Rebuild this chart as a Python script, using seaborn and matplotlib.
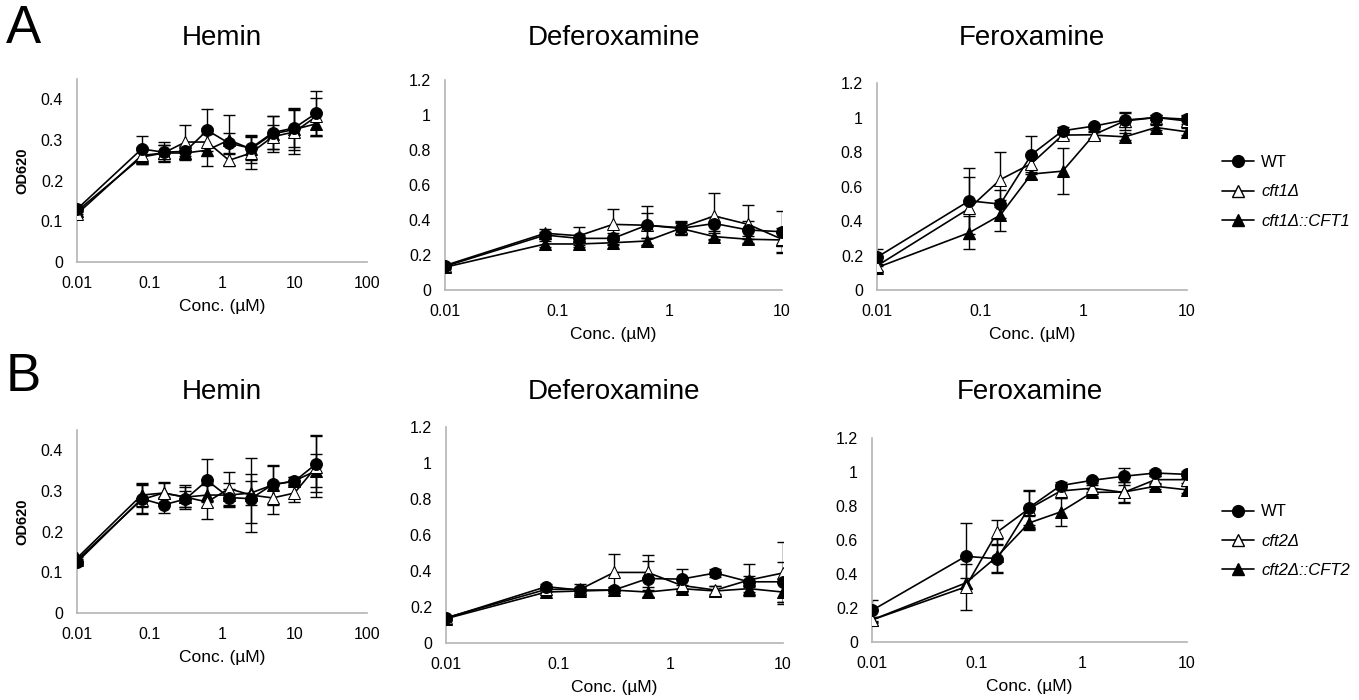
import matplotlib
matplotlib.use("Agg")
import matplotlib.pyplot as plt
import seaborn as sns
import pandas as pd
import numpy as np
from matplotlib.lines import Line2D
from matplotlib.ticker import FixedLocator, NullLocator

# ---------------- data ----------------
conc_hemin = [0.01, 0.078, 0.156, 0.3125, 0.625, 1.25, 2.5, 5, 10, 20]
conc_sid = [0.01, 0.078, 0.156, 0.3125, 0.625, 1.25, 2.5, 5, 10]

# Panel A
hemA_wt = [0.130, 0.278, 0.270, 0.272, 0.324, 0.292, 0.280, 0.318, 0.330, 0.366]
hemA_wt_err = [0.008, 0.033, 0.025, 0.012, 0.052, 0.025, 0.030, 0.040, 0.048, 0.055]
hemA_del = [0.118, 0.262, 0.268, 0.295, 0.295, 0.250, 0.268, 0.308, 0.320, 0.358]
hemA_del_err = [0.008, 0.022, 0.020, 0.042, 0.035, 0.015, 0.040, 0.030, 0.055, 0.045]
hemA_comp = [0.125, 0.258, 0.268, 0.268, 0.275, 0.300, 0.278, 0.315, 0.326, 0.340]
hemA_comp_err = [0.008, 0.018, 0.020, 0.018, 0.040, 0.062, 0.035, 0.045, 0.050, 0.030]

defA_wt = [0.135, 0.314, 0.295, 0.295, 0.370, 0.352, 0.380, 0.343, 0.333]
defA_wt_err = [0.010, 0.020, 0.020, 0.030, 0.070, 0.030, 0.040, 0.050, 0.120]
defA_del = [0.140, 0.324, 0.310, 0.375, 0.370, 0.356, 0.423, 0.375, 0.290]
defA_del_err = [0.010, 0.025, 0.050, 0.090, 0.110, 0.030, 0.130, 0.110, 0.040]
defA_comp = [0.130, 0.263, 0.263, 0.270, 0.280, 0.352, 0.305, 0.290, 0.286]
defA_comp_err = [0.010, 0.015, 0.015, 0.015, 0.020, 0.040, 0.020, 0.020, 0.067]

ferA_wt = [0.190, 0.517, 0.498, 0.785, 0.923, 0.950, 0.985, 1.000, 0.990]
ferA_wt_err = [0.050, 0.190, 0.080, 0.110, 0.020, 0.015, 0.040, 0.015, 0.025]
ferA_del = [0.140, 0.473, 0.640, 0.733, 0.898, 0.900, 0.980, 1.000, 0.980]
ferA_del_err = [0.030, 0.180, 0.160, 0.050, 0.020, 0.020, 0.050, 0.015, 0.030]
ferA_comp = [0.130, 0.332, 0.434, 0.672, 0.689, 0.898, 0.888, 0.942, 0.917]
ferA_comp_err = [0.020, 0.095, 0.090, 0.030, 0.134, 0.020, 0.020, 0.015, 0.020]

# Panel B
hemB_wt = [0.125, 0.281, 0.266, 0.280, 0.326, 0.284, 0.281, 0.316, 0.324, 0.367]
hemB_wt_err = [0.008, 0.035, 0.020, 0.020, 0.052, 0.020, 0.060, 0.045, 0.010, 0.070]
hemB_del = [0.130, 0.279, 0.295, 0.285, 0.273, 0.306, 0.290, 0.283, 0.295, 0.360]
hemB_del_err = [0.008, 0.035, 0.025, 0.030, 0.042, 0.040, 0.090, 0.040, 0.022, 0.075]
hemB_comp = [0.135, 0.290, 0.295, 0.285, 0.290, 0.290, 0.295, 0.315, 0.325, 0.350]
hemB_comp_err = [0.008, 0.030, 0.028, 0.025, 0.030, 0.030, 0.030, 0.050, 0.010, 0.040]

defB_wt = [0.138, 0.313, 0.294, 0.294, 0.358, 0.355, 0.389, 0.340, 0.340]
defB_wt_err = [0.010, 0.015, 0.015, 0.015, 0.100, 0.055, 0.020, 0.030, 0.110]
defB_del = [0.140, 0.298, 0.298, 0.392, 0.392, 0.320, 0.294, 0.350, 0.389]
defB_del_err = [0.010, 0.015, 0.030, 0.100, 0.095, 0.030, 0.020, 0.090, 0.170]
defB_comp = [0.135, 0.283, 0.289, 0.294, 0.283, 0.302, 0.289, 0.302, 0.283]
defB_comp_err = [0.010, 0.015, 0.015, 0.015, 0.030, 0.020, 0.030, 0.020, 0.057]

ferB_wt = [0.186, 0.504, 0.490, 0.790, 0.920, 0.951, 0.975, 0.994, 0.986]
ferB_wt_err = [0.060, 0.195, 0.080, 0.100, 0.020, 0.015, 0.050, 0.015, 0.020]
ferB_del = [0.130, 0.324, 0.647, 0.784, 0.888, 0.905, 0.880, 0.955, 0.955]
ferB_del_err = [0.020, 0.135, 0.070, 0.110, 0.040, 0.020, 0.060, 0.020, 0.020]
ferB_comp = [0.130, 0.347, 0.504, 0.700, 0.765, 0.880, 0.882, 0.916, 0.895]
ferB_comp_err = [0.015, 0.030, 0.100, 0.040, 0.085, 0.020, 0.060, 0.015, 0.020]

titles = ["Hemin", "Deferoxamine", "Feroxamine"]
strains_A = ["WT", "cft1Δ", "cft1Δ::CFT1"]
strains_B = ["WT", "cft2Δ", "cft2Δ::CFT2"]

hemin_xticks = [0.01, 0.1, 1, 10, 100]
hemin_xlabels = ["0.01", "0.1", "1", "10", "100"]
sid_xticks = [0.01, 0.1, 1, 10]
sid_xlabels = ["0.01", "0.1", "1", "10"]
hemin_yticks = [0, 0.1, 0.2, 0.3, 0.4]
hemin_ylabels = ["0", "0.1", "0.2", "0.3", "0.4"]
sid_yticks = [0, 0.2, 0.4, 0.6, 0.8, 1.0, 1.2]
sid_ylabels = ["0", "0.2", "0.4", "0.6", "0.8", "1", "1.2"]

# ---------------- style ----------------
sns.set_theme(style="white")
plt.rcParams["font.family"] = ["Liberation Sans", "DejaVu Sans"]
for k in ["text.color", "axes.labelcolor", "xtick.labelcolor", "ytick.labelcolor"]:
    plt.rcParams[k] = "black"

fig = plt.figure(figsize=(13.59, 7.0), dpi=100)
W, H = 1359, 700

def ax_at(l, r, t, b):
    return fig.add_axes([l / W, 1 - b / H, (r - l) / W, (b - t) / H])

panels = {
    ("A", 0): ax_at(77, 367, 79, 262),
    ("A", 1): ax_at(445, 782, 80, 290),
    ("A", 2): ax_at(877, 1187, 83, 290),
    ("B", 0): ax_at(77, 367, 430, 613),
    ("B", 1): ax_at(446, 783, 427, 643),
    ("B", 2): ax_at(872, 1187, 438, 642),
}

series = {
    ("A", 0): [(hemA_wt, hemA_wt_err), (hemA_del, hemA_del_err), (hemA_comp, hemA_comp_err)],
    ("A", 1): [(defA_wt, defA_wt_err), (defA_del, defA_del_err), (defA_comp, defA_comp_err)],
    ("A", 2): [(ferA_wt, ferA_wt_err), (ferA_del, ferA_del_err), (ferA_comp, ferA_comp_err)],
    ("B", 0): [(hemB_wt, hemB_wt_err), (hemB_del, hemB_del_err), (hemB_comp, hemB_comp_err)],
    ("B", 1): [(defB_wt, defB_wt_err), (defB_del, defB_del_err), (defB_comp, defB_comp_err)],
    ("B", 2): [(ferB_wt, ferB_wt_err), (ferB_del, ferB_del_err), (ferB_comp, ferB_comp_err)],
}

mk_styles = [
    dict(marker="o", markerfacecolor="black", markeredgecolor="black", markersize=8.5),
    dict(marker="^", markerfacecolor="white", markeredgecolor="black", markersize=8.5),
    dict(marker="^", markerfacecolor="black", markeredgecolor="black", markersize=8.5),
]
draw_order = [2, 1, 0]
grey = "#b4b4b4"

for (grp, col), ax in panels.items():
    xs = conc_hemin if col == 0 else conc_sid
    names = strains_A if grp == "A" else strains_B
    for i in draw_order:
        yv, ev = series[(grp, col)][i]
        df = pd.DataFrame({"conc": xs, "od": yv, "strain": names[i]})
        ax.errorbar(xs, yv, yerr=ev, fmt="none", ecolor="black", elinewidth=1.0,
                    capsize=4, capthick=1.0, zorder=2)
        sns.lineplot(data=df, x="conc", y="od", ax=ax, color="black", linewidth=1.2,
                     legend=False, zorder=3, **mk_styles[i])
    ax.set_xscale("log")
    if col == 0:
        ax.set_xlim(0.01, 100)
        ax.set_ylim(0, 0.45)
        ax.xaxis.set_major_locator(FixedLocator(hemin_xticks))
        ax.set_xticklabels(hemin_xlabels)
        ax.set_yticks(hemin_yticks)
        ax.set_yticklabels(hemin_ylabels)
        ax.set_ylabel("OD620", fontsize=10.5, fontweight="bold", labelpad=8)
    else:
        ax.set_xlim(0.01, 10)
        ax.set_ylim(0, 1.2)
        ax.xaxis.set_major_locator(FixedLocator(sid_xticks))
        ax.set_xticklabels(sid_xlabels)
        ax.set_yticks(sid_yticks)
        ax.set_yticklabels(sid_ylabels)
        ax.set_ylabel("")
    ax.xaxis.set_minor_locator(NullLocator())
    ax.set_xlabel("Conc. (µM)", fontsize=12.5, labelpad=6)
    ax.tick_params(axis="both", which="major", direction="out", length=4, width=1,
                   color=grey, labelsize=11.5, pad=6, labelcolor="black")
    for s in ["top", "right"]:
        ax.spines[s].set_visible(False)
    for s in ["left", "bottom"]:
        ax.spines[s].set_color(grey)
        ax.spines[s].set_linewidth(1.2)
    ax.patch.set_alpha(0)

# titles
title_y = {"A": 1 - 38 / H, "B": 1 - 392 / H}
for (grp, col), ax in panels.items():
    pos = ax.get_position()
    fig.text((pos.x0 + pos.x1) / 2, title_y[grp], titles[col], ha="center", va="center",
             fontsize=20, color="black")

fig.text(6 / W, 1 - 29 / H, "A", fontsize=38, ha="left", va="center", color="black")
fig.text(6 / W, 1 - 377 / H, "B", fontsize=38, ha="left", va="center", color="black")

def make_handles():
    return [Line2D([0], [0], color="black", linewidth=1.2, **mk_styles[i]) for i in range(3)]

for names, yc in [(strains_A, 192), (strains_B, 541)]:
    leg = fig.legend(make_handles(), names, loc="center left",
                     bbox_to_anchor=(1207 / W, 1 - yc / H), frameon=False, fontsize=12,
                     handlelength=1.9, labelspacing=0.85, handletextpad=0.45)
    for j, t in enumerate(leg.get_texts()):
        t.set_color("black")
        if j > 0:
            t.set_fontstyle("italic")

fig.savefig("out.png", dpi=100, facecolor="white")
